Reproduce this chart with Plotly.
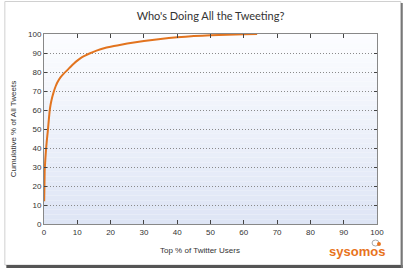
import plotly.graph_objects as go

# Data
top_pct_users = [0.05, 0.2, 0.4, 0.6, 0.8, 1.0, 1.2, 1.5, 1.7, 2.0, 2.5, 3.0, 3.5, 4.0, 5.0, 6.0, 7.0, 8.0, 9, 10, 11, 12, 13, 14, 15, 16, 18, 20, 22, 25, 28, 30, 35, 40, 45, 50, 55, 60, 64]
cum_pct_tweets = [12, 28, 34, 39, 43, 46.5, 50, 56, 59.5, 63, 67, 70, 72.5, 74.5, 77.3, 79.3, 81, 82.8, 84.5, 86, 87.3, 88.3, 89.2, 90.0, 90.7, 91.4, 92.5, 93.3, 94, 95, 95.8, 96.3, 97.4, 98.3, 98.9, 99.3, 99.6, 99.85, 100]

title_text = "Who's Doing All the Tweeting?"
x_title = "Top % of Twitter Users"
y_title = "Cumulative % of All Tweets"
tick_vals = list(range(0, 101, 10))

fig = go.Figure()
fig.add_trace(go.Scatter(
    x=top_pct_users, y=cum_pct_tweets, mode="lines",
    line=dict(color="#e2741f", width=2, shape="spline", smoothing=0.3),
    hoverinfo="skip", showlegend=False,
))

shapes = []
# gradient background of plot area
n = 40
top_rgb = (252, 253, 255)
bot_rgb = (222, 229, 245)
for i in range(n):
    t = i / (n - 1)
    r = round(top_rgb[0] + (bot_rgb[0] - top_rgb[0]) * t)
    g = round(top_rgb[1] + (bot_rgb[1] - top_rgb[1]) * t)
    b = round(top_rgb[2] + (bot_rgb[2] - top_rgb[2]) * t)
    y1 = 1 - i / n
    y0 = 1 - (i + 1) / n
    shapes.append(dict(type="rect", xref="x domain", yref="y domain",
                       x0=0, x1=1, y0=y0, y1=y1, layer="below",
                       line=dict(width=0), fillcolor=f"rgb({r},{g},{b})"))

# outer frame with drop shadow
def px2x(px):
    return (px - 41) / 336
def py2y(py):
    return (224 - py) / 190

shapes.append(dict(type="rect", xref="paper", yref="paper",
                   x0=px2x(1.5), x1=px2x(401), y0=py2y(265), y1=py2y(1.5),
                   line=dict(color="#d0d0d0", width=1), layer="below"))
shapes.append(dict(type="line", xref="paper", yref="paper",
                   x0=px2x(3), x1=px2x(403), y0=py2y(266.5), y1=py2y(266.5),
                   line=dict(color="#555555", width=3)))
shapes.append(dict(type="line", xref="paper", yref="paper",
                   x0=px2x(402), x1=px2x(402), y0=py2y(268), y1=py2y(3),
                   line=dict(color="#777777", width=2)))
# logo icon
shapes.append(dict(type="circle", xref="paper", yref="paper",
                   x0=px2x(372), x1=px2x(379), y0=py2y(246), y1=py2y(240),
                   line=dict(color="#aaaaaa", width=1)))
shapes.append(dict(type="circle", xref="paper", yref="paper",
                   x0=px2x(377), x1=px2x(381), y0=py2y(246), y1=py2y(242),
                   line=dict(width=0), fillcolor="#e8731c"))

fig.update_layout(
    width=406, height=269,
    margin=dict(l=41, r=29, t=34, b=45),
    paper_bgcolor="white", plot_bgcolor="white",
    title=dict(text=title_text, x=0.5, xref="paper", xanchor="center",
               y=1 - 16 / 269, yanchor="middle",
               font=dict(family="Lato", size=11, color="#333333")),
    font=dict(family="Liberation Sans", size=8, color="#333333"),
    shapes=shapes,
    annotations=[
        dict(text=x_title, xref="paper", yref="paper", x=px2x(198), y=py2y(250),
             xanchor="center", yanchor="middle", showarrow=False,
             font=dict(family="Liberation Sans", size=8, color="#333333")),
        dict(text="sysomos", xref="paper", yref="paper", x=px2x(357), y=py2y(251),
             xanchor="center", yanchor="middle", showarrow=False,
             font=dict(family="Liberation Sans", size=13, color="#e8731c", weight="bold")),
    ],
)
fig.update_xaxes(
    range=[0, 100], tickvals=tick_vals, ticks="inside", ticklen=4, tickcolor="#444444",
    showgrid=False, zeroline=False, showline=True, linecolor="#888888", linewidth=1,
    mirror="ticks", tickfont=dict(size=8, color="#333333"),
)
fig.update_yaxes(
    range=[0, 100], tickvals=tick_vals, ticks="inside", ticklen=3, tickcolor="#444444",
    showgrid=True, gridcolor="#8a8a8a", griddash="1px,2px", gridwidth=1,
    zeroline=False, showline=True, linecolor="#888888", linewidth=1,
    mirror="ticks", title=dict(text=y_title, font=dict(size=8, color="#333333"), standoff=10),
    tickfont=dict(size=8, color="#333333"),
)

fig.write_html("out.html")
